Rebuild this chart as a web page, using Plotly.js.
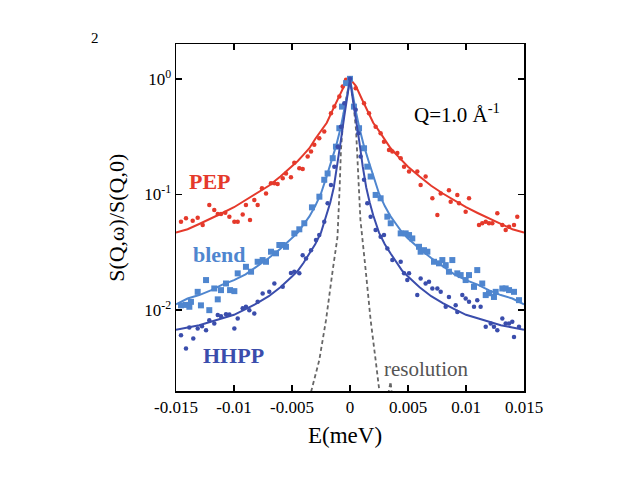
<!DOCTYPE html>
<html>
<head>
<meta charset="utf-8">
<script src="https://cdn.plot.ly/plotly-3.0.1.min.js"></script>
<style>html,body{margin:0;padding:0;background:#fff;}#chart{width:640px;height:480px;}</style>
</head>
<body>
<div id="chart"></div>
<script>
// ---- data (E in meV, S = S(Q,w)/S(Q,0)) ----
const E_pep = [-0.01457,-0.01414,-0.01356,-0.01313,-0.0127,-0.01213,-0.0117,-0.0114,-0.01112,-0.01075,
  -0.0104,-0.00997,-0.00968,-0.00925,-0.00897,-0.00862,-0.00825,-0.00796,-0.00759,-0.00724,
  -0.00681,-0.00652,-0.00624,-0.0058,-0.00552,-0.00509,-0.0048,-0.00437,-0.00408,-0.00365,
  -0.00336,-0.00308,-0.00265,-0.00222,-0.00164,-0.00135,-0.00092,-0.00063,-0.00034,0,
  0.00049,0.00121,0.00164,0.00221,0.00264,0.00293,0.00336,0.00365,0.00408,0.00437,
  0.00466,0.00509,0.0058,0.00609,0.00652,0.0071,0.00753,0.00782,0.00853,0.00868,
  0.00925,0.0094,0.00997,0.01026,0.01112,0.0114,0.0117,0.01198,0.01227,0.0127,
  0.01313,0.01342,0.01371,0.01414,0.01442];
const S_pep = [0.0582,0.0622,0.0593,0.0630,0.0545,0.0811,0.0735,0.0678,0.0678,0.0695,
  0.0643,0.0582,0.0582,0.0673,0.0811,0.0601,0.0895,0.0811,0.113,0.102,
  0.125,0.125,0.123,0.138,0.152,0.141,0.188,0.169,0.166,0.213,
  0.235,0.269,0.306,0.350,0.505,0.575,0.703,0.857,0.98,1.0,
  0.830,0.615,0.505,0.386,0.339,0.286,0.243,0.235,0.228,0.206,
  0.174,0.158,0.158,0.121,0.143,0.0927,0.0665,0.102,0.109,0.0867,
  0.0991,0.0839,0.0710,0.0927,0.0545,0.0564,0.0582,0.0564,0.0564,0.0687,
  0.0545,0.0493,0.0526,0.0545,0.0643];

const E_pep_fit = [-0.015,-0.014,-0.013,-0.012,-0.011,-0.010,-0.009,-0.008,-0.007,-0.006,-0.005,-0.0045,-0.004,-0.0035,-0.003,-0.0025,-0.002,-0.0015,-0.001,-0.0005,0,
  0.0005,0.001,0.0015,0.002,0.0025,0.003,0.0035,0.004,0.0045,0.005,0.006,0.007,0.008,0.009,0.010,0.011,0.012,0.013,0.014,0.015];
const S_pep_fit = [0.0468,0.0501,0.0556,0.0617,0.0692,0.0776,0.0891,0.102,0.119,0.143,0.174,0.195,0.221,0.251,0.302,0.355,0.417,0.537,0.676,0.871,1.0,
  0.871,0.676,0.537,0.417,0.355,0.302,0.251,0.221,0.195,0.174,0.143,0.119,0.102,0.0891,0.0776,0.0692,0.0617,0.0556,0.0501,0.0468];

const E_blend = [-0.01457,-0.01414,-0.01385,-0.01371,-0.01313,-0.01285,-0.01241,-0.01213,-0.0117,-0.0114,
  -0.01112,-0.01069,-0.01034,-0.00997,-0.00968,-0.00897,-0.00853,-0.00796,-0.00753,-0.00724,
  -0.00681,-0.00638,-0.00609,-0.0058,-0.00552,-0.0048,-0.00437,-0.00394,-0.00328,-0.00264,-0.00222,
  -0.00193,-0.00149,-0.00121,-0.00092,-0.00069,-0.00034,0,
  0.00034,0.00078,0.00121,0.00149,0.00178,0.00221,0.00264,0.00322,0.00351,0.00437,
  0.0048,0.00509,0.00537,0.00595,0.00609,0.00638,0.00667,0.00724,0.00767,0.00796,
  0.00825,0.00853,0.00882,0.00925,0.00954,0.00997,0.01026,0.01069,0.01097,0.0114,
  0.0117,0.01198,0.01241,0.01256,0.01313,0.01342,0.01371,0.01414,0.01457];
const S_blend = [0.0110,0.0111,0.0107,0.0118,0.0144,0.0110,0.0182,0.0100,0.0154,0.0124,
  0.0149,0.0170,0.0149,0.0146,0.0208,0.0237,0.0215,0.0262,0.0271,0.0262,
  0.0320,0.0310,0.0366,0.0366,0.0353,0.0461,0.0500,0.0564,0.0774,0.0957,0.134,
  0.152,0.206,0.259,0.374,0.575,0.918,1.0,
  0.575,0.374,0.251,0.174,0.143,0.0991,0.0927,0.0643,0.0564,0.0461,
  0.0461,0.0446,0.0417,0.0353,0.0320,0.0330,0.0320,0.0262,0.0254,0.0271,
  0.0245,0.0215,0.0271,0.0208,0.0201,0.0182,0.0201,0.0159,0.0222,0.0170,
  0.0135,0.0140,0.0130,0.0144,0.0154,0.0154,0.0149,0.0144,0.0122];

const E_blend_fit = [-0.015,-0.014,-0.013,-0.012,-0.011,-0.010,-0.009,-0.008,-0.007,-0.006,-0.005,-0.0045,-0.004,-0.0035,-0.003,-0.0025,-0.002,-0.0016,-0.0012,-0.0008,-0.0005,-0.0002,0,
  0.0002,0.0005,0.0008,0.0012,0.0016,0.002,0.0025,0.003,0.0035,0.004,0.0045,0.005,0.006,0.007,0.008,0.009,0.010,0.011,0.012,0.013,0.014,0.015];
const S_blend_fit = [0.0112,0.0126,0.0135,0.0148,0.0166,0.0182,0.0204,0.0240,0.0282,0.0339,0.0417,0.0468,0.0550,0.0646,0.0794,0.102,0.145,0.195,0.263,0.380,0.525,0.759,1.0,
  0.759,0.525,0.380,0.263,0.195,0.145,0.102,0.0794,0.0646,0.0550,0.0468,0.0417,0.0339,0.0282,0.0240,0.0204,0.0182,0.0166,0.0148,0.0135,0.0126,0.0112];

const E_hhpp = [-0.01457,-0.01414,-0.01385,-0.01351,-0.01313,-0.01276,-0.01241,-0.01213,-0.0117,-0.0114,
  -0.01112,-0.01069,-0.0104,-0.00997,-0.00968,-0.00925,-0.00897,-0.00868,-0.00825,-0.00796,
  -0.00753,-0.00696,-0.00652,-0.0058,-0.00509,-0.0048,-0.00437,-0.00408,-0.00379,-0.00336,
  -0.00293,-0.00265,-0.00222,-0.00193,-0.00164,-0.00135,-0.00106,-0.00078,-0.00049,0,
  0.00049,0.00072,0.00092,0.00121,0.00149,0.00178,0.00221,0.00264,0.00293,0.00322,
  0.00365,0.00437,0.00466,0.00494,0.00509,0.0058,0.00609,0.00652,0.00681,0.0071,
  0.00753,0.00782,0.00825,0.00853,0.00911,0.00925,0.00968,0.00997,0.01026,0.01069,
  0.01097,0.01126,0.0117,0.01213,0.01241,0.0127,0.01313,0.01342,0.01371,0.01399,
  0.01414,0.01457];
const S_hhpp = [0.00608,0.00466,0.00708,0.00569,0.00693,0.00726,0.00671,0.00818,0.00767,0.00906,
  0.00887,0.00923,0.00918,0.00693,0.00847,0.0104,0.0107,0.0100,0.00935,0.0118,
  0.0139,0.0144,0.0170,0.0159,0.0210,0.0215,0.0208,0.0299,0.0280,0.0330,
  0.0404,0.0446,0.0582,0.0839,0.121,0.174,0.259,0.386,0.615,1.0,
  0.540,0.339,0.213,0.134,0.0839,0.0643,0.0493,0.0432,0.0446,0.0342,
  0.0271,0.0262,0.0208,0.0182,0.0208,0.0135,0.0188,0.0170,0.0176,0.0154,
  0.0154,0.0144,0.0107,0.0130,0.0110,0.00966,0.0135,0.0126,0.0118,0.0107,
  0.0122,0.0107,0.00718,0.00767,0.00718,0.00671,0.00847,0.00767,0.00767,0.00793,
  0.00587,0.00718];

const E_hhpp_fit = [-0.015,-0.014,-0.013,-0.012,-0.011,-0.010,-0.009,-0.008,-0.007,-0.006,-0.005,-0.0045,-0.004,-0.0035,-0.003,-0.0025,-0.002,-0.0017,-0.0014,-0.0011,-0.0008,-0.0005,-0.0002,0,
  0.0002,0.0005,0.0008,0.0011,0.0014,0.0017,0.002,0.0025,0.003,0.0035,0.004,0.0045,0.005,0.006,0.007,0.008,0.009,0.010,0.011,0.012,0.013,0.014,0.015];
const S_hhpp_fit = [0.00676,0.00708,0.00741,0.00794,0.00851,0.00912,0.0102,0.0115,0.0132,0.0158,0.0195,0.0219,0.0257,0.0309,0.0372,0.0468,0.0661,0.0851,0.115,0.174,0.288,0.468,0.708,1.0,
  0.708,0.468,0.288,0.174,0.115,0.0851,0.0661,0.0468,0.0372,0.0309,0.0257,0.0219,0.0195,0.0158,0.0132,0.0115,0.0102,0.00912,0.00851,0.00794,0.00741,0.00708,0.00676];

const E_res = [-0.0036,-0.00336,-0.00265,-0.00207,-0.00149,-0.00108,-0.0009,-0.00078,-0.00052,0,
  0.00026,0.00052,0.00073,0.0009,0.00135,0.00178,0.00221,0.0025,0.0028,0.0033,0.0035,0.0038];
const S_res = [0.0015,0.00196,0.00369,0.00818,0.0222,0.0427,0.110,0.243,0.537,1.0,
  0.661,0.363,0.134,0.0603,0.0222,0.00818,0.00369,0.00196,0.0012,0.0019,0.0024,0.0012];

const xTickVals = [-0.015,-0.01,-0.005,0,0.005,0.01,0.015];
const xTickText = ['-0.015','-0.01','-0.005','0','0.005','0.01','0.015'];
const yTickVals = [0.01,0.1,1];
const yTickText = ['10<sup>-2</sup>','10<sup>-1</sup>','10<sup>0</sup>'];

// ---- styling ----
const RED = '#e5392b', LBLUE = '#4f86cf', DBLUE = '#3a4dac', GRAY = '#666666';
const FONT = 'Liberation Serif, Times New Roman, serif';

const traces = [
  {x:E_res, y:S_res, mode:'lines', line:{color:GRAY, width:1.8, dash:'4px,3px'}},
  {x:E_pep, y:S_pep, mode:'markers', marker:{color:RED, size:4.5, symbol:'circle'}},
  {x:E_pep_fit, y:S_pep_fit, mode:'lines', line:{color:RED, width:2}},
  {x:E_blend, y:S_blend, mode:'markers', marker:{color:LBLUE, size:6, symbol:'square'}},
  {x:E_blend_fit, y:S_blend_fit, mode:'lines', line:{color:LBLUE, width:2}},
  {x:E_hhpp, y:S_hhpp, mode:'markers', marker:{color:DBLUE, size:4.5, symbol:'circle'}},
  {x:E_hhpp_fit, y:S_hhpp_fit, mode:'lines', line:{color:DBLUE, width:2}}
];

const axisCommon = {
  ticks:'inside', ticklen:6, tickwidth:1.5, tickcolor:'#000',
  showline:true, linewidth:1.5, linecolor:'#000', mirror:'ticks',
  showgrid:false, zeroline:false,
  tickfont:{family:FONT, size:17, color:'#000'}
};

function note(x, y, text, size, color, extra) {
  return Object.assign({xref:'paper', yref:'paper', x:x, y:y, text:text, showarrow:false,
    xanchor:'center', yanchor:'middle', font:{family:FONT, size:size, color:color}}, extra || {});
}

const layout = {
  width:640, height:480,
  margin:{l:176, r:116, t:44, b:89},
  paper_bgcolor:'#fff', plot_bgcolor:'#fff',
  showlegend:false,
  xaxis:Object.assign({}, axisCommon, {range:[-0.015,0.015], tickmode:'array', tickvals:xTickVals, ticktext:xTickText}),
  yaxis:Object.assign({}, axisCommon, {type:'log', range:[Math.log10(0.002), Math.log10(2)], tickmode:'array', tickvals:yTickVals, ticktext:yTickText}),
  annotations:[
    note(0.0977, 0.604, '<b>PEP</b>', 22, RED),
    note(0.1236, 0.392, '<b>blend</b>', 22, LBLUE),
    note(0.1638, 0.1037, '<b>HHPP</b>', 22, DBLUE),
    note(0.718, 0.0634, 'resolution', 21, '#555'),
    note(0.807, 0.801, 'Q=1.0 Å<sup>-1</sup>', 21, '#000'),
    note(-0.233, 1.017, '2', 15, '#000'),
    note(-0.17, 0.4986, 'S(Q,ω)/S(Q,0)', 22, '#000', {textangle:-90}),
    note(0.4856, -0.127, 'E(meV)', 23, '#000')
  ]
};

Plotly.newPlot('chart', traces, layout, {displayModeBar:false, staticPlot:true});
</script>
</body>
</html>
